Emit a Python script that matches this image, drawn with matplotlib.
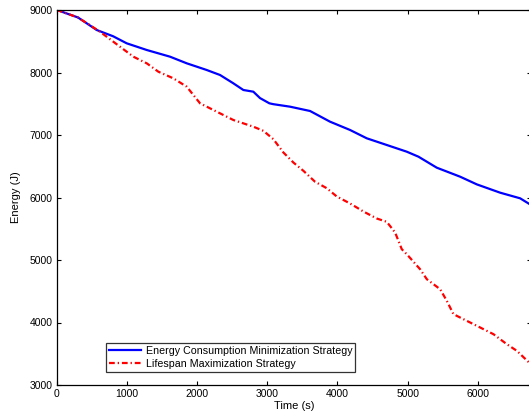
import numpy as np
import matplotlib.pyplot as plt

# --- Datos --------------------------------------------------------------------
t_min = [0, 300, 566, 800, 994, 1280, 1612, 1850, 2135, 2325, 2515, 2658, 2800,
         2896, 3029, 3086, 3324, 3609, 3894, 4180, 4418, 4703, 4988, 5155, 5416,
         5749, 5987, 6320, 6605, 6760]
e_min = [9000, 8880, 8680, 8580, 8467, 8360, 8253, 8147, 8040, 7960, 7827, 7720,
         7693, 7590, 7507, 7493, 7453, 7384, 7213, 7080, 6947, 6840, 6733, 6653,
         6477, 6333, 6210, 6077, 5987, 5880]

t_life = [0, 300, 613, 803, 1089, 1280, 1445, 1659, 1850, 2040, 2278, 2515, 2800,
          2943, 3086, 3229, 3371, 3514, 3681, 3847, 3990, 4180, 4370, 4560, 4703,
          4822, 4917, 4988, 5178, 5274, 5464, 5559, 5654, 5797, 5987, 6225, 6415,
          6558, 6760]
e_life = [9000, 8880, 8653, 8493, 8253, 8147, 8013, 7907, 7773, 7507, 7373, 7240,
          7133, 7067, 6933, 6720, 6560, 6427, 6251, 6149, 6016, 5904, 5776, 5664,
          5611, 5440, 5173, 5093, 4853, 4693, 4533, 4347, 4133, 4053, 3947, 3813,
          3653, 3547, 3330]

xticks = [0, 1000, 2000, 3000, 4000, 5000, 6000]
yticks = [3000, 4000, 5000, 6000, 7000, 8000, 9000]

plt.rcParams['font.family'] = ['Liberation Sans', 'DejaVu Sans']

fig = plt.figure(figsize=(5.29, 4.17), dpi=100)
ax = fig.add_axes([57/529, 32/417, 474/529, 375/417])

ax.plot(t_min, e_min, color='#0000ff', lw=1.6, label='Energy Consumption Minimization Strategy')
ax.plot(t_life, e_life, color='#ff0000', lw=1.6, dashes=(2.6, 1.3, 0.6, 1.3),
        label='Lifespan Maximization Strategy')

ax.set_xlim(0, 6760)
ax.set_ylim(3000, 9000)
ax.set_xticks(xticks)
ax.set_yticks(yticks)
ax.tick_params(direction='in', top=True, right=True, length=3, width=0.8,
               labelsize=7.5, pad=3)
for s in ax.spines.values():
    s.set_linewidth(0.9)

ax.set_xlabel('Time (s)', fontsize=8, labelpad=1)
ax.set_ylabel('Energy (J)', fontsize=8, labelpad=6)

leg = ax.legend(loc='lower left', bbox_to_anchor=(49/474, 13/375), fontsize=7.7,
                frameon=True, fancybox=False, edgecolor='black', handlelength=3.0,
                borderpad=0.3, labelspacing=0.25, handletextpad=0.4, borderaxespad=0)
leg.get_frame().set_linewidth(0.9)

fig.savefig('out.png', dpi=100)
